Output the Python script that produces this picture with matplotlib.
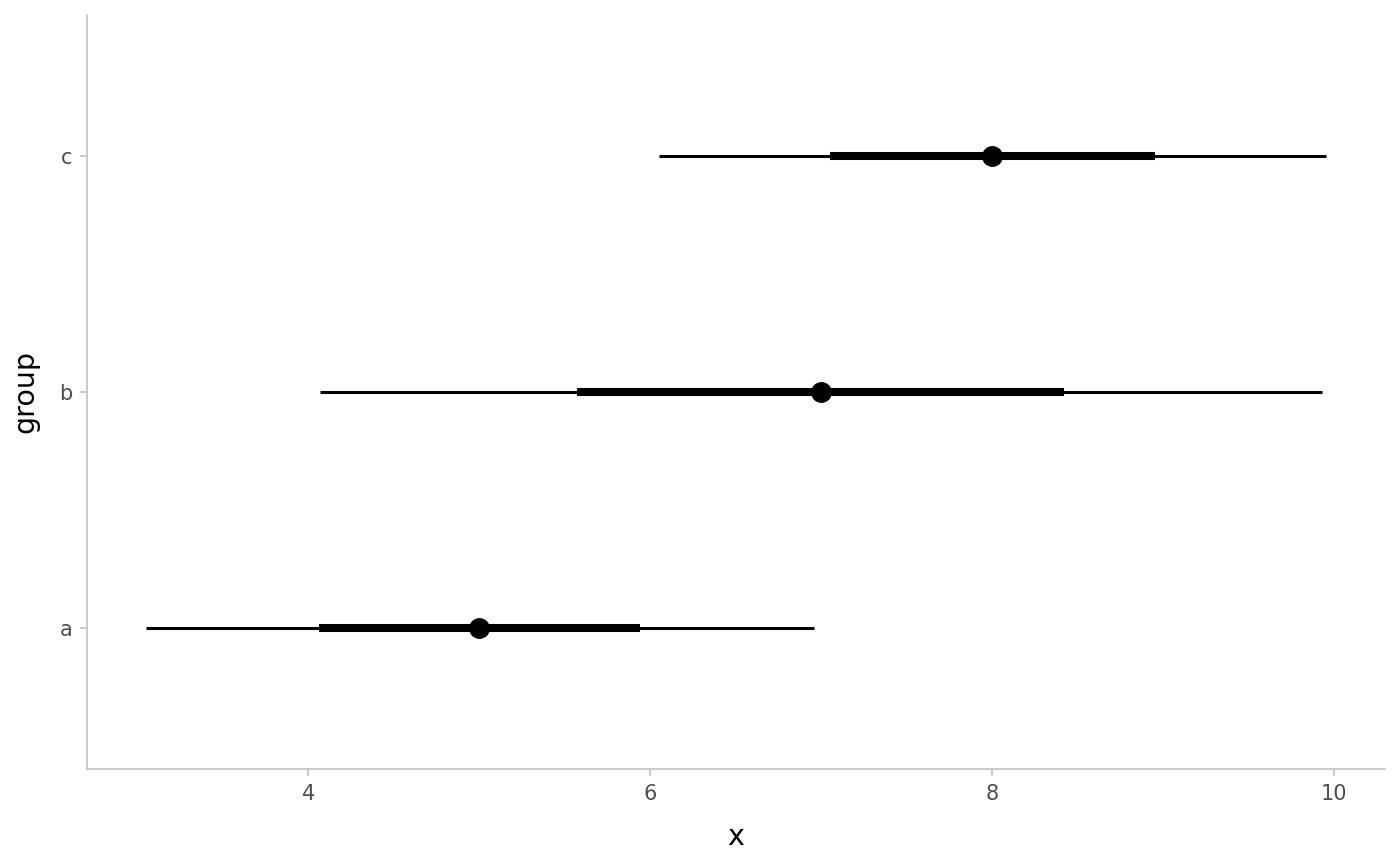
import matplotlib.pyplot as plt

groups = ['a', 'b', 'c']
centre = [5.0, 7.0, 8.0]
outer_lo = [3.05, 4.07, 6.05]
outer_hi = [6.96, 9.93, 9.95]
inner_lo = [4.06, 5.57, 7.05]
inner_hi = [5.94, 8.42, 8.95]

fig = plt.figure(figsize=(14, 8.66), dpi=100)
ax = fig.add_axes([0.0621, 0.112, 0.927, 0.871])

ypos = range(1, len(groups) + 1)
ax.hlines(ypos, outer_lo, outer_hi, color='black', linewidth=2.2)
ax.hlines(ypos, inner_lo, inner_hi, color='black', linewidth=5.8)
ax.plot(centre, ypos, 'o', color='black', markersize=14)

ax.set_xlim(2.705, 10.295)
ax.set_ylim(0.4, 3.6)
ax.set_yticks(list(ypos))
ax.set_yticklabels(groups)
ax.set_xticks([4, 6, 8, 10])

for s in ['top', 'right']:
    ax.spines[s].set_visible(False)
for s in ['left', 'bottom']:
    ax.spines[s].set_color('#bdbdbd')
    ax.spines[s].set_linewidth(1.1)
ax.tick_params(colors='#bdbdbd', labelcolor='#4d4d4d', labelsize=15, length=5, width=1.1, pad=5.5)

ax.set_xlabel('x', fontsize=20.5, labelpad=14)
ax.set_ylabel('group', fontsize=20.5, labelpad=14)

fig.savefig('out.png')
